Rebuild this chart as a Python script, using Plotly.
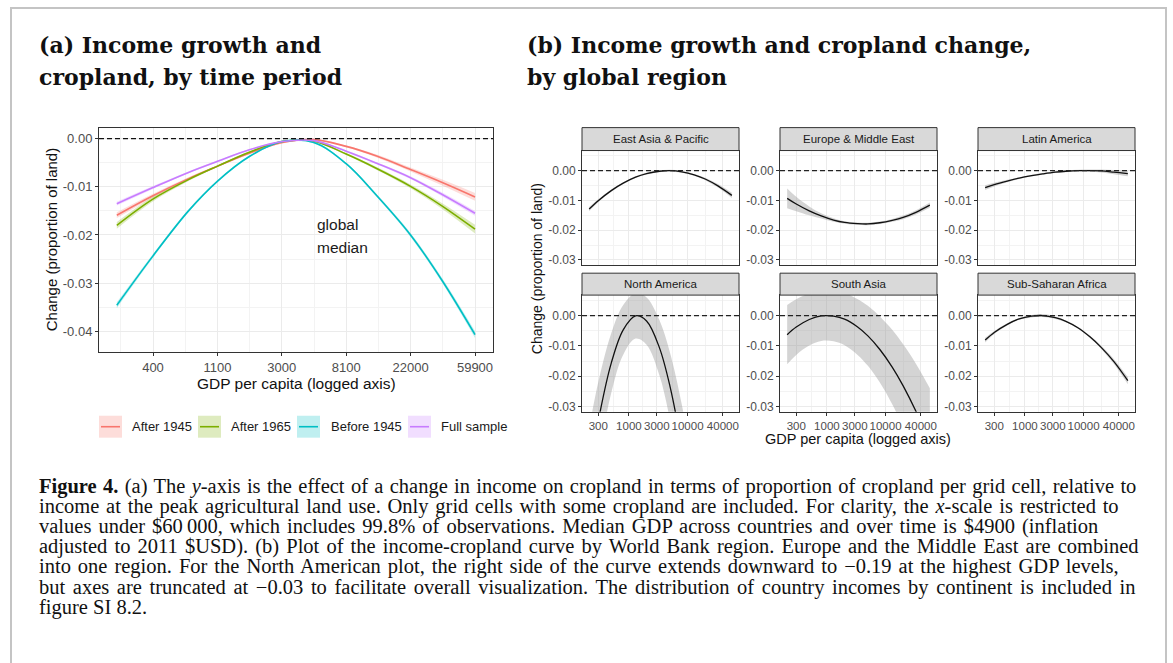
import numpy as np
import plotly.graph_objects as go

W, H = 1173, 663

# ---------------- Panel (a): income-cropland curves by time period ----------------
gdp_a = [230, 400, 700, 1100, 1800, 3000, 4900, 8100, 13000, 22000, 36000, 59900]

after_1945 = [-0.0159, -0.0119, -0.0083, -0.0057, -0.0030, -0.0008, -0.0002,
              -0.0016, -0.0036, -0.0064, -0.0091, -0.0121]
after_1945_ci = [0.0006, 0.0004, 0.0003, 0.0002, 0.0002, 0.0002, 0.0002, 0.0002,
                 0.0003, 0.0004, 0.0006, 0.0008]

after_1965 = [-0.0180, -0.0126, -0.0085, -0.0057, -0.0028, -0.0006, -0.0005,
              -0.0032, -0.0062, -0.0099, -0.0140, -0.0188]
after_1965_ci = [0.0007, 0.0005, 0.0003, 0.0002, 0.0002, 0.0002, 0.0002, 0.0002,
                 0.0003, 0.0004, 0.0006, 0.0009]

before_1945 = [-0.0346, -0.0245, -0.0150, -0.0088, -0.0037, -0.0006, -0.0008,
               -0.0052, -0.0118, -0.0200, -0.0295, -0.0407]
before_1945_ci = [0.0006, 0.0004, 0.0003, 0.0002, 0.0002, 0.0002, 0.0002, 0.0002,
                  0.0003, 0.0004, 0.0005, 0.0007]

full_sample = [-0.0135, -0.0102, -0.0070, -0.0047, -0.0023, -0.0006, -0.0004,
               -0.0026, -0.0051, -0.0081, -0.0116, -0.0155]
full_sample_ci = [0.0004, 0.0003, 0.0002, 0.0002, 0.0001, 0.0001, 0.0001, 0.0002,
                  0.0002, 0.0003, 0.0004, 0.0005]

period_names = ["After 1945", "After 1965", "Before 1945", "Full sample"]
period_values = [after_1945, after_1965, before_1945, full_sample]
period_ci = [after_1945_ci, after_1965_ci, before_1945_ci, full_sample_ci]
period_colors = ["#F8766D", "#7CAE00", "#00BFC4", "#C77CFF"]

median_gdp = 4900

a_xticks = list(np.exp([6, 7, 8, 9, 10, 11]))
a_xlabels = ["400", "1100", "3000", "8100", "22000", "59900"]
a_xminor = list(np.exp([5.5, 6.5, 7.5, 8.5, 9.5, 10.5]))
a_yticks = [0.0, -0.01, -0.02, -0.03, -0.04]
a_ylabels = ["0.00", "-0.01", "-0.02", "-0.03", "-0.04"]
a_yminor = [-0.005, -0.015, -0.025, -0.035]

# ---------------- Panel (b): income-cropland curves by region ----------------
gdp_b = [210, 300, 500, 800, 1300, 2000, 3300, 5000, 8000, 13000, 20000, 33000, 57000]

east_asia = [-0.0129, -0.0101, -0.0067, -0.0042, -0.0022, -0.0010, -0.0002, 0.0000,
             -0.0004, -0.0014, -0.0028, -0.0051, -0.0083]
east_asia_ci = [0.0007, 0.0005, 0.0004, 0.0003, 0.0003, 0.0003, 0.0003, 0.0003,
                0.0003, 0.0003, 0.0004, 0.0006, 0.0009]

europe_me = [-0.0093, -0.0112, -0.0135, -0.0152, -0.0166, -0.0174, -0.0178, -0.0179,
             -0.0175, -0.0167, -0.0157, -0.0140, -0.0116]
europe_me_ci = [0.0033, 0.0024, 0.0015, 0.0009, 0.0006, 0.0004, 0.0004, 0.0004,
                0.0004, 0.0005, 0.0006, 0.0007, 0.0009]

latin_america = [-0.0057, -0.0047, -0.0035, -0.0025, -0.0017, -0.0011, -0.0005, -0.0002,
                 0.0000, 0.0000, -0.0001, -0.0005, -0.0010]
latin_america_ci = [0.0008, 0.0006, 0.0004, 0.0003, 0.0003, 0.0003, 0.0003, 0.0003,
                    0.0003, 0.0004, 0.0005, 0.0007, 0.0009]

north_america = [-0.0528, -0.0349, -0.0157, -0.0047, -0.0001, -0.0018, -0.0105, -0.0232,
                 -0.0437, -0.0716, -0.1020, -0.1443, -0.1900]
north_america_ci = [0.0157, 0.0129, 0.0099, 0.0082, 0.0075, 0.0078, 0.0091, 0.0111,
                    0.0143, 0.0187, 0.0234, 0.0300, 0.0385]

south_asia = [-0.0063, -0.0038, -0.0013, -0.0001, -0.0002, -0.0012, -0.0037, -0.0067,
              -0.0112, -0.0170, -0.0232, -0.0316, -0.0422]
south_asia_ci = [0.0098, 0.0092, 0.0086, 0.0083, 0.0083, 0.0086, 0.0092, 0.0099,
                 0.0109, 0.0123, 0.0137, 0.0157, 0.0182]

sub_saharan = [-0.0081, -0.0056, -0.0029, -0.0011, -0.0002, 0.0000, -0.0007, -0.0019,
               -0.0040, -0.0071, -0.0105, -0.0152, -0.0215]
sub_saharan_ci = [0.0008, 0.0005, 0.0004, 0.0003, 0.0004, 0.0005, 0.0004, 0.0003,
                  0.0003, 0.0004, 0.0005, 0.0008, 0.0012]

regions = ["East Asia & Pacific", "Europe & Middle East", "Latin America",
           "North America", "South Asia", "Sub-Saharan Africa"]
region_values = [east_asia, europe_me, latin_america, north_america, south_asia, sub_saharan]
region_ci = [east_asia_ci, europe_me_ci, latin_america_ci, north_america_ci,
             south_asia_ci, sub_saharan_ci]

b_xticks = [300, 1000, 3000, 10000, 40000]
b_xlabels = ["300", "1000", "3000", "10000", "40000"]
b_xminor = [164, 548, 1732, 5477, 20000]
b_yticks = [0.0, -0.01, -0.02, -0.03]
b_ylabels = ["0.00", "-0.01", "-0.02", "-0.03"]
b_yminor = [0.005, -0.005, -0.015, -0.025]

caption_lines = [
    "<b>Figure 4.</b> (a) The <i>y</i>-axis is the effect of a change in income on cropland in terms of proportion of cropland per grid cell, relative to",
    "income at the peak agricultural land use. Only grid cells with some cropland are included. For clarity, the <i>x</i>-scale is restricted to",
    "values under $60\u2009000, which includes 99.8% of observations. Median GDP across countries and over time is $4900 (inflation",
    "adjusted to 2011 $USD). (b) Plot of the income-cropland curve by World Bank region. Europe and the Middle East are combined",
    "into one region. For the North American plot, the right side of the curve extends downward to \u22120.19 at the highest GDP levels,",
    "but axes are truncated at \u22120.03 to facilitate overall visualization. The distribution of country incomes by continent is included in",
    "figure SI 8.2.",
]
# extra inter-word spacing (px) that spreads each caption line across the text block
caption_word_spacing = [1.2, 1.65, 1.9, 2.0, 1.85, 2.5, 0.0]


# ---------------- helpers ----------------
def px_x(px):
    return px / W


def px_y(py):
    return 1 - py / H


def rgba(hex_color, alpha):
    h = hex_color.lstrip("#")
    r, g, b = int(h[0:2], 16), int(h[2:4], 16), int(h[4:6], 16)
    return f"rgba({r},{g},{b},{alpha})"


SANS = "Liberation Sans, Arial, sans-serif"
SERIF = "Liberation Serif, Times New Roman, serif"
TITLE_FONT = "DejaVu Serif, serif"
FRAME = "#333333"
GRID = "#EBEBEB"
GRID_MINOR = "#F3F3F3"


def x_axis(domain, rng, tickvals, ticktext, minor_vals, anchor, size, show):
    return dict(
        type="log", domain=domain, range=rng, anchor=anchor,
        tickmode="array", tickvals=tickvals, ticktext=ticktext, tickangle=0,
        showticklabels=show, ticks="outside" if show else "", ticklen=3,
        tickwidth=1, tickcolor=FRAME,
        tickfont=dict(family=SANS, size=size, color="#4D4D4D"),
        showline=True, mirror=True, linecolor=FRAME, linewidth=1,
        showgrid=True, gridcolor=GRID, gridwidth=1, zeroline=False,
        minor=dict(tickmode="array", tickvals=minor_vals, showgrid=True,
                   gridcolor=GRID_MINOR, gridwidth=0.7, ticks=""),
        fixedrange=True,
    )


def y_axis(domain, rng, tickvals, ticktext, minor_vals, anchor, size):
    return dict(
        domain=domain, range=rng, anchor=anchor,
        tickmode="array", tickvals=tickvals, ticktext=ticktext,
        ticks="outside", ticklen=3, tickwidth=1, tickcolor=FRAME,
        tickfont=dict(family=SANS, size=size, color="#4D4D4D"),
        showline=True, mirror=True, linecolor=FRAME, linewidth=1,
        showgrid=True, gridcolor=GRID, gridwidth=1, zeroline=False,
        minor=dict(tickmode="array", tickvals=minor_vals, showgrid=True,
                   gridcolor=GRID_MINOR, gridwidth=0.7, ticks=""),
        fixedrange=True,
    )


def label(x, y, text, size, family=SANS, color="#111111", xanchor="center",
          angle=0, xref="paper", yref="paper", xshift=0):
    return dict(x=x, y=y, xref=xref, yref=yref, text=text, showarrow=False,
                xanchor=xanchor, yanchor="middle", textangle=angle, xshift=xshift,
                font=dict(family=family, size=size, color=color))


fig = go.Figure()
layout = {}
shapes = []
annotations = []

# ---------------- Panel (a) ----------------
layout["xaxis"] = x_axis([px_x(99), px_x(493)], [2.2416, 4.8986], a_xticks, a_xlabels,
                         a_xminor, "y", 13, True)
layout["yaxis"] = y_axis([px_y(353), px_y(128)], [-0.0443, 0.0023], a_yticks, a_ylabels,
                         a_yminor, "x", 13)

for name, vals, ci, col in zip(period_names, period_values, period_ci, period_colors):
    lo = [v - c for v, c in zip(vals, ci)]
    hi = [v + c for v, c in zip(vals, ci)]
    fig.add_trace(go.Scatter(x=gdp_a, y=lo, mode="lines", line=dict(width=0, shape="spline"),
                             xaxis="x", yaxis="y", showlegend=False, hoverinfo="skip"))
    fig.add_trace(go.Scatter(x=gdp_a, y=hi, mode="lines", line=dict(width=0, shape="spline"),
                             fill="tonexty", fillcolor=rgba(col, 0.25),
                             xaxis="x", yaxis="y", showlegend=False, hoverinfo="skip"))
for name, vals, col in zip(period_names, period_values, period_colors):
    fig.add_trace(go.Scatter(x=gdp_a, y=vals, mode="lines", name=name,
                             line=dict(color=col, width=1.6, shape="spline"),
                             xaxis="x", yaxis="y", showlegend=False))

# zero reference and global median
shapes.append(dict(type="line", xref="x domain", x0=0, x1=1, yref="y", y0=0, y1=0,
                   line=dict(color="#111111", width=1.3, dash="5px,3px"), layer="above"))
shapes.append(dict(type="line", xref="x", x0=np.log10(median_gdp), x1=np.log10(median_gdp),
                   yref="y domain", y0=0, y1=1,
                   line=dict(color="#111111", width=1.5, dash="1.5px,2.5px"), layer="above"))
annotations.append(label(np.log10(median_gdp), -0.0178, "global", 15.5, color="#1A1A1A",
                         xanchor="left", xref="x", yref="y", xshift=1))
annotations.append(label(np.log10(median_gdp), -0.0226, "median", 15.5, color="#1A1A1A",
                         xanchor="left", xref="x", yref="y", xshift=1))

# axis titles (a)
annotations.append(label(px_x(51), px_y(241), "Change (proportion of land)", 15, angle=-90))
annotations.append(label(px_x(296), px_y(384.5), "GDP per capita (logged axis)", 15.5))

# legend (a)
key_left = [99, 198, 297, 408]
text_left = [130, 229, 329, 439]
for name, col, kx, tx in zip(period_names, period_colors, key_left, text_left):
    shapes.append(dict(type="rect", xref="paper", yref="paper",
                       x0=px_x(kx), x1=px_x(kx + 23), y0=px_y(439), y1=px_y(417),
                       fillcolor=rgba(col, 0.25), line=dict(width=0)))
    shapes.append(dict(type="line", xref="paper", yref="paper",
                       x0=px_x(kx + 2), x1=px_x(kx + 21), y0=px_y(428), y1=px_y(428),
                       line=dict(color=col, width=1.6)))
    annotations.append(label(px_x(tx), px_y(428), name, 13, color="#1A1A1A", xanchor="left"))

# ---------------- Panel (b) ----------------
col_left = [582, 780, 978]
col_right = [739, 937, 1135]
row_strip_top = [128, 274]
row_panel_top = [151, 296]
row_panel_bottom = [266, 413]
b_xrange = [2.200, 4.878]
b_yrange = [-0.03175, 0.00675]

for i, (region, vals, ci) in enumerate(zip(regions, region_values, region_ci)):
    k = i + 2
    r, c = divmod(i, 3)
    xa, ya = f"x{k}", f"y{k}"
    layout[f"xaxis{k}"] = x_axis([px_x(col_left[c]), px_x(col_right[c])], b_xrange,
                                 b_xticks, b_xlabels, b_xminor, ya, 11.5, r == 1)
    layout[f"yaxis{k}"] = y_axis([px_y(row_panel_bottom[r]), px_y(row_panel_top[r])], b_yrange,
                                 b_yticks, b_ylabels, b_yminor, xa, 12)
    lo = [v - e for v, e in zip(vals, ci)]
    hi = [v + e for v, e in zip(vals, ci)]
    fig.add_trace(go.Scatter(x=gdp_b, y=lo, mode="lines", line=dict(width=0, shape="spline"),
                             xaxis=xa, yaxis=ya, showlegend=False, hoverinfo="skip"))
    fig.add_trace(go.Scatter(x=gdp_b, y=hi, mode="lines", line=dict(width=0, shape="spline"),
                             fill="tonexty", fillcolor="rgba(153,153,153,0.42)",
                             xaxis=xa, yaxis=ya, showlegend=False, hoverinfo="skip"))
    fig.add_trace(go.Scatter(x=gdp_b, y=vals, mode="lines", name=region,
                             line=dict(color="#111111", width=1.3, shape="spline"),
                             xaxis=xa, yaxis=ya, showlegend=False))
    shapes.append(dict(type="line", xref=f"{xa} domain", x0=0, x1=1, yref=ya, y0=0, y1=0,
                       line=dict(color="#222222", width=1.2, dash="5px,3px"), layer="above"))
    # facet strip
    shapes.append(dict(type="rect", xref="paper", yref="paper",
                       x0=px_x(col_left[c]), x1=px_x(col_right[c]),
                       y0=px_y(row_panel_top[r]), y1=px_y(row_strip_top[r]),
                       fillcolor="#D9D9D9", line=dict(color=FRAME, width=1)))
    annotations.append(label(px_x((col_left[c] + col_right[c]) / 2),
                             px_y((row_strip_top[r] + row_panel_top[r]) / 2),
                             region, 11.5, color="#1A1A1A"))

annotations.append(label(px_x(537), px_y(270), "Change (proportion of land)", 14, angle=-90))
annotations.append(label(px_x(858), px_y(440), "GDP per capita (logged axis)", 14.5))

# ---------------- titles ----------------
for tx, lines in [(37, ["(a) Income growth and", "cropland, by time period"]),
                  (525, ["(b) Income growth and cropland change,", "by global region"])]:
    for j, line in enumerate(lines):
        annotations.append(label(px_x(tx), px_y(45 + 32.5 * j), f"<b>{line}</b>", 22,
                                 family=TITLE_FONT, xanchor="left"))

# ---------------- caption ----------------
for j, (line, ws) in enumerate(zip(caption_lines, caption_word_spacing)):
    text = f'<span style="word-spacing:{ws}px">{line}</span>' if ws else line
    annotations.append(label(px_x(37), px_y(487.5 + 20.3 * j), text, 20.5,
                             family=SERIF, xanchor="left"))

# outer frame
shapes.append(dict(type="rect", xref="paper", yref="paper",
                   x0=px_x(11), x1=px_x(1166), y0=px_y(700), y1=px_y(8),
                   line=dict(color="#C4C4C4", width=2), fillcolor="rgba(0,0,0,0)"))

fig.update_layout(
    width=W, height=H, autosize=False,
    margin=dict(l=0, r=0, t=0, b=0, pad=0),
    paper_bgcolor="white", plot_bgcolor="white",
    showlegend=False,
    shapes=shapes, annotations=annotations,
    **layout,
)

fig.write_html("out.html", config={"displayModeBar": False, "responsive": False})
